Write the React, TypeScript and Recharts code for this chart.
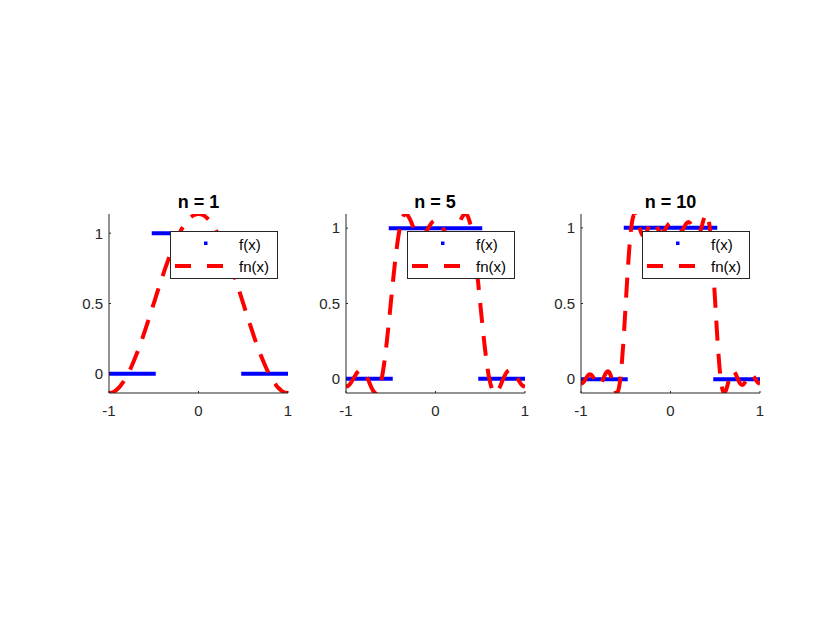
import React from 'react';
import { LineChart, Line, XAxis, YAxis, Legend } from 'recharts';

// ---------- data ----------
const xValues = [
  -1, -0.975, -0.95, -0.925, -0.9, -0.875, -0.85, -0.825, -0.8, -0.775,
  -0.75, -0.725, -0.7, -0.675, -0.65, -0.625, -0.6, -0.575, -0.55, -0.525,
  -0.5, -0.475, -0.45, -0.425, -0.4, -0.375, -0.35, -0.325, -0.3, -0.275,
  -0.25, -0.225, -0.2, -0.175, -0.15, -0.125, -0.1, -0.075, -0.05, -0.025,
  0,
  0.025, 0.05, 0.075, 0.1, 0.125, 0.15, 0.175, 0.2, 0.225, 0.25,
  0.275, 0.3, 0.325, 0.35, 0.375, 0.4, 0.425, 0.45, 0.475, 0.5,
  0.525, 0.55, 0.575, 0.6, 0.625, 0.65, 0.675, 0.7, 0.725, 0.75,
  0.775, 0.8, 0.825, 0.85, 0.875, 0.9, 0.925, 0.95, 0.975, 1,
];

const fn1Values = [
  -0.137, -0.135, -0.129, -0.119, -0.105, -0.088, -0.067, -0.043, -0.015, 0.016,
  0.050, 0.087, 0.126, 0.167, 0.211, 0.256, 0.303, 0.351, 0.400, 0.450,
  0.500, 0.550, 0.600, 0.649, 0.697, 0.744, 0.789, 0.833, 0.874, 0.913,
  0.950, 0.984, 1.015, 1.043, 1.067, 1.088, 1.105, 1.119, 1.129, 1.135,
  1.137,
  1.135, 1.129, 1.119, 1.105, 1.088, 1.067, 1.043, 1.015, 0.984, 0.950,
  0.913, 0.874, 0.833, 0.789, 0.744, 0.697, 0.649, 0.600, 0.550, 0.500,
  0.450, 0.400, 0.351, 0.303, 0.256, 0.211, 0.167, 0.126, 0.087, 0.050,
  0.016, -0.015, -0.043, -0.067, -0.088, -0.105, -0.119, -0.129, -0.135, -0.137,
];

const fn5Values = [
  -0.052, -0.046, -0.030, -0.006, 0.019, 0.042, 0.056, 0.058, 0.047, 0.023,
  -0.010, -0.046, -0.076, -0.093, -0.089, -0.057, 0.004, 0.096, 0.214, 0.352,
  0.500, 0.648, 0.786, 0.904, 0.996, 1.057, 1.089, 1.093, 1.076, 1.046,
  1.010, 0.977, 0.953, 0.942, 0.944, 0.958, 0.981, 1.006, 1.030, 1.046,
  1.052,
  1.046, 1.030, 1.006, 0.981, 0.958, 0.944, 0.942, 0.953, 0.977, 1.010,
  1.046, 1.076, 1.093, 1.089, 1.057, 0.996, 0.904, 0.786, 0.648, 0.500,
  0.352, 0.214, 0.096, 0.004, -0.057, -0.089, -0.093, -0.076, -0.046, -0.010,
  0.023, 0.047, 0.058, 0.056, 0.042, 0.019, -0.006, -0.030, -0.046, -0.052,
];

const fn10Values = [
  -0.032, -0.022, 0.000, 0.023, 0.033, 0.023, -0.002, -0.028, -0.039, -0.027,
  0.004, 0.037, 0.052, 0.035, -0.011, -0.065, -0.091, -0.055, 0.063, 0.258,
  0.500, 0.742, 0.937, 1.055, 1.091, 1.065, 1.011, 0.965, 0.948, 0.963,
  0.996, 1.027, 1.039, 1.028, 1.002, 0.977, 0.967, 0.977, 1.000, 1.022,
  1.032,
  1.022, 1.000, 0.977, 0.967, 0.977, 1.002, 1.028, 1.039, 1.027, 0.996,
  0.963, 0.948, 0.965, 1.011, 1.065, 1.091, 1.055, 0.937, 0.742, 0.500,
  0.258, 0.063, -0.055, -0.091, -0.065, -0.011, 0.035, 0.052, 0.037, 0.004,
  -0.027, -0.039, -0.028, -0.002, 0.023, 0.033, 0.023, 0.000, -0.022, -0.032,
];

// square wave f(x): segments separated by null breaks
const fStepX = [-1, -0.5, -0.5, -0.5, 0.5, 0.5, 0.5, 1];
const fStepY: (number | null)[] = [0, 0, null, 1, 1, null, 0, 0];

const panelTitles = ['n = 1', 'n = 5', 'n = 10'];
const panelSeries = [fn1Values, fn5Values, fn10Values];
const yDomains: [number, number][] = [
  [-0.1366, 1.1366],
  [-0.094, 1.094],
  [-0.0915, 1.0915],
];
const xTicks = [-1, 0, 1];
const yTicks = [0, 0.5, 1];
const seriesNames = ['f(x)', 'fn(x)'];

// ---------- layout / style ----------
const FONT = '"Liberation Sans", Arial, Helvetica, sans-serif';
const AXIS = '#262626';
const BLUE = '#0000ff';
const RED = '#ff0000';
const PLOT_W = 179;
const PLOT_H = 179;
const Y_AXIS_W = 50;
const TOP = 30;
const RIGHT = 31;
const X_AXIS_H = 31;
const CHART_W = Y_AXIS_W + PLOT_W + RIGHT;
const CHART_H = TOP + PLOT_H + X_AXIS_H;
const PLOT_LEFTS = [109, 345.5, 581];
const PLOT_TOP = 214;
const TICK_MARGIN_Y = 6;
const TICK_MARGIN_X = 12;
const TICK_LEN = 2;
const TICK_FONT = 15;
const TITLE_FONT = 18;

const fRows = fStepX.map((x, i) => ({ x, f: fStepY[i] }));

const XTick = (props: any) => {
  const { x, y, payload } = props;
  const ay = y - TICK_MARGIN_X;
  return (
    <g>
      <line x1={x} y1={ay} x2={x} y2={ay - TICK_LEN} stroke={AXIS} strokeWidth={1} />
      <text x={x} y={y} dy="0.71em" textAnchor="middle" fontSize={TICK_FONT} fontFamily={FONT} fill={AXIS}>
        {String(payload.value)}
      </text>
    </g>
  );
};

const YTick = (props: any) => {
  const { x, y, payload } = props;
  const ax = x + TICK_MARGIN_Y;
  return (
    <g>
      <line x1={ax} y1={y} x2={ax + TICK_LEN} y2={y} stroke={AXIS} strokeWidth={1} />
      <text x={x} y={y} dy="0.355em" textAnchor="end" fontSize={TICK_FONT} fontFamily={FONT} fill={AXIS}>
        {String(payload.value)}
      </text>
    </g>
  );
};

const LegendBox = () => (
  <svg width={108} height={48} style={{ display: 'block' }}>
    <rect x={0.5} y={0.5} width={107} height={47} fill="#ffffff" stroke={AXIS} strokeWidth={1} />
    <rect x={34} y={10.5} width={3.5} height={3.5} fill={BLUE} />
    <text x={69} y={19} fontSize={TICK_FONT} fontFamily={FONT} fill="#000">
      {seriesNames[0]}
    </text>
    <line x1={5} y1={35} x2={53} y2={35} stroke={RED} strokeWidth={4} strokeDasharray="16 16" />
    <text x={69} y={41} fontSize={TICK_FONT} fontFamily={FONT} fill="#000">
      {seriesNames[1]}
    </text>
  </svg>
);

const Panel = ({ index }: { index: number }) => {
  const values = panelSeries[index];
  const rows = xValues.map((x, i) => ({ x, fn: values[i] }));
  const plotLeft = PLOT_LEFTS[index];
  return (
    <>
      <div
        style={{
          position: 'absolute',
          left: plotLeft,
          top: 192.8,
          width: PLOT_W,
          textAlign: 'center',
          fontFamily: FONT,
          fontSize: TITLE_FONT,
          lineHeight: `${TITLE_FONT}px`,
          fontWeight: 'bold',
          color: '#000',
          whiteSpace: 'nowrap',
        }}
      >
        {panelTitles[index]}
      </div>
      <div style={{ position: 'absolute', left: plotLeft - Y_AXIS_W, top: PLOT_TOP - TOP }}>
        <LineChart
          width={CHART_W}
          height={CHART_H}
          data={rows}
          margin={{ top: TOP, right: RIGHT, bottom: 0, left: 0 }}
        >
          <XAxis
            dataKey="x"
            type="number"
            domain={[-1, 1]}
            ticks={xTicks}
            interval={0}
            allowDataOverflow
            height={X_AXIS_H}
            tickSize={0}
            tickLine={false}
            tickMargin={TICK_MARGIN_X}
            axisLine={{ stroke: AXIS, strokeWidth: 1 }}
            tick={(p: any) => <XTick {...p} />}
          />
          <YAxis
            type="number"
            domain={yDomains[index]}
            ticks={yTicks}
            interval={0}
            allowDataOverflow
            width={Y_AXIS_W}
            tickSize={0}
            tickLine={false}
            tickMargin={TICK_MARGIN_Y}
            axisLine={{ stroke: AXIS, strokeWidth: 1 }}
            tick={(p: any) => <YTick {...p} />}
          />
          <Line
            data={fRows}
            dataKey="f"
            name={seriesNames[0]}
            type="linear"
            stroke={BLUE}
            strokeWidth={4}
            strokeLinecap="square"
            dot={false}
            activeDot={false}
            connectNulls={false}
            isAnimationActive={false}
          />
          <Line
            dataKey="fn"
            name={seriesNames[1]}
            type="natural"
            stroke={RED}
            strokeWidth={4}
            strokeDasharray="20 13"
            dot={false}
            activeDot={false}
            isAnimationActive={false}
          />
          <Legend
            layout="vertical"
            align="center"
            verticalAlign="middle"
            content={() => <LegendBox />}
            wrapperStyle={{ left: PLOT_W + Y_AXIS_W - 118, top: TOP + 17, width: 108, height: 48 }}
          />
        </LineChart>
      </div>
    </>
  );
}

export default function App() {
  return (
    <div
      style={{
        position: 'absolute',
        left: 0,
        top: 0,
        width: 840,
        height: 630,
        background: '#ffffff',
        fontFamily: FONT,
        overflow: 'hidden',
      }}
    >
      {panelTitles.map((_, i) => (
        <Panel key={i} index={i} />
      ))}
    </div>
  );
}
